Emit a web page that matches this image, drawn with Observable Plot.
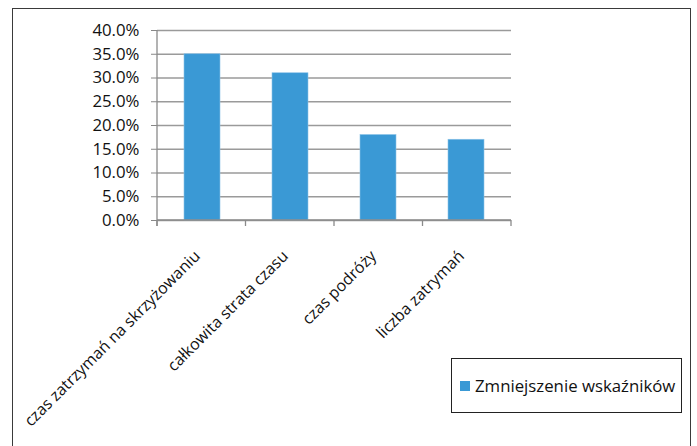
<!DOCTYPE html>
<html>
<head>
<meta charset="utf-8">
<script src="https://cdn.jsdelivr.net/npm/d3@7"></script>
<script src="https://cdn.jsdelivr.net/npm/@observablehq/plot@0.6"></script>
<style>
  html, body { margin: 0; padding: 0; background: #fff; }
  #wrap { position: relative; width: 697px; height: 446px; overflow: hidden; font-family: "Open Sans", sans-serif; }
  #frame { position: absolute; left: 12px; top: 8px; width: 679px; height: 460px; border: 1.5px solid #3a3a3a; box-sizing: border-box; }
  #legend { position: absolute; left: 451px; top: 358px; width: 231px; height: 55px; border: 1.2px solid #222; box-sizing: border-box; background: #fff;
            display: flex; align-items: center; padding-left: 8px; font-size: 16.8px; color: #111; }
  #legend .sw { width: 10px; height: 10px; background: #3a99d5; margin-right: 5px; }
  svg { position: absolute; left: 0; top: 0; }
</style>
</head>
<body>
<div id="wrap">
  <div id="frame"></div>
</div>
<script>
const categories = ["czas zatrzymań na skrzyżowaniu", "całkowita strata czasu", "czas podróży", "liczba zatrymań"];
const values = [0.35, 0.31, 0.18, 0.17];
const seriesName = "Zmniejszenie wskaźników";
const yTicks = [0, 0.05, 0.10, 0.15, 0.20, 0.25, 0.30, 0.35, 0.40];

const data = categories.map((c, i) => ({category: c, value: values[i]}));

const plot = Plot.plot({
  width: 697,
  height: 446,
  marginLeft: 157,
  marginRight: 186,
  marginTop: 30,
  marginBottom: 226,
  style: {fontFamily: "Open Sans, sans-serif", fontSize: "16px", color: "#111", background: "transparent"},
  x: {domain: categories, paddingInner: 0.59, paddingOuter: 0.295, label: null},
  y: {domain: [0, 0.4], label: null},
  marks: [
    Plot.gridY(yTicks, {stroke: "#9a9a9a", strokeOpacity: 1, strokeWidth: 1.3}),
    Plot.barY(data, {x: "category", y: "value", fill: "#3a99d5", stroke: "#8cc4e8", strokeWidth: 0.6}),
    Plot.axisY(yTicks, {tickFormat: d3.format(".1%"), tickSize: 6, tickPadding: 12, stroke: "#888", fontSize: 16.8, fill: "#111"}),
    Plot.axisX({tickSize: 0, tickRotate: -45, tickPadding: 14, dx: -5, dy: 19, fontSize: 16, fill: "#111"})
  ]
});

// Axis lines and category boundary ticks, from the plot's own x/y scales
const xs = plot.scale("x");
const ys = plot.scale("y");
const xScale = d3.scaleBand().domain(xs.domain).range(xs.range).paddingInner(xs.paddingInner).paddingOuter(xs.paddingOuter);
const yScale = d3.scaleLinear().domain(ys.domain).range(ys.range);
const step = xScale.step();
const bw = xScale.bandwidth();
const bounds = categories.map(c => xScale(c) + bw / 2 - step / 2).concat([xScale(categories[categories.length - 1]) + bw / 2 + step / 2]);
const svg = d3.select(plot);
const g = svg.append("g").attr("stroke", "#8a8a8a").attr("stroke-width", 1.3);
const y0 = yScale(0), yTop = yScale(0.4);
g.append("line").attr("x1", bounds[0]).attr("x2", bounds[bounds.length - 1]).attr("y1", y0).attr("y2", y0);
g.append("line").attr("x1", bounds[0]).attr("x2", bounds[0]).attr("y1", yTop).attr("y2", y0 + 6);
bounds.forEach(b => g.append("line").attr("x1", b).attr("x2", b).attr("y1", y0).attr("y2", y0 + 6));

document.getElementById("wrap").appendChild(plot);

const legend = document.createElement("div");
legend.id = "legend";
legend.innerHTML = `<span class="sw"></span><span>${seriesName}</span>`;
document.getElementById("wrap").appendChild(legend);
</script>
</body>
</html>
